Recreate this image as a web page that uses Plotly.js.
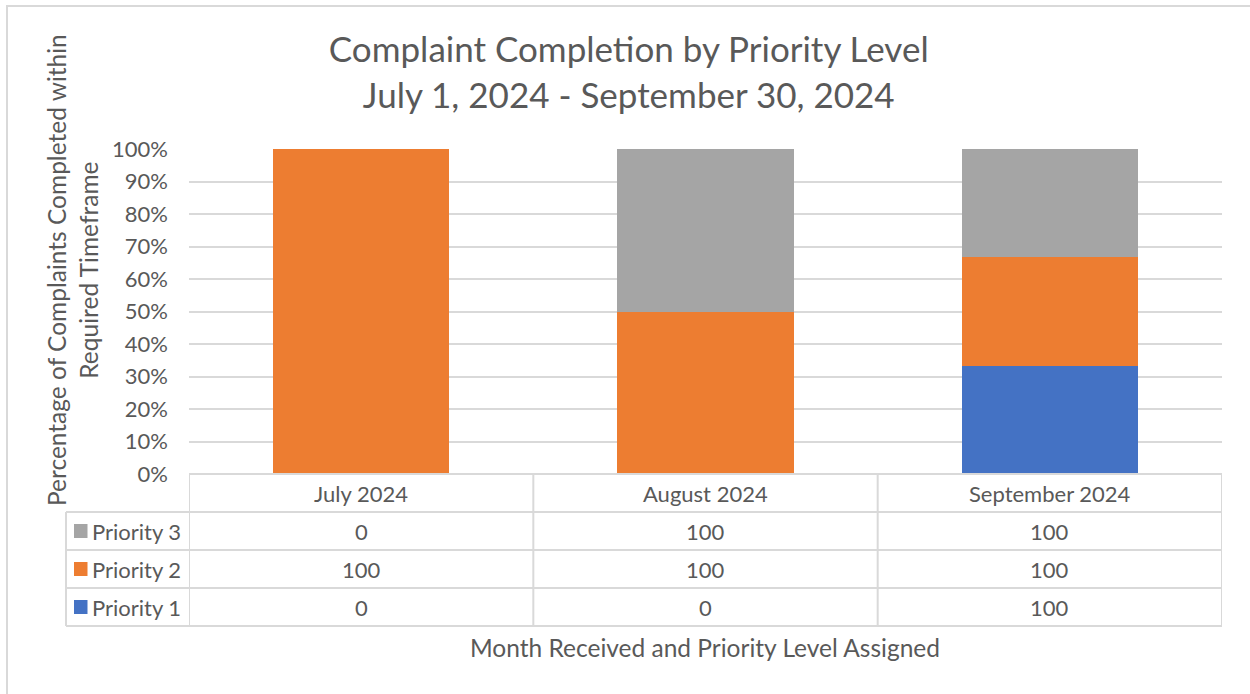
<!DOCTYPE html>
<html>
<head>
<meta charset="utf-8">
<script src="https://cdn.plot.ly/plotly-3.0.1.min.js"></script>
<style>
  html, body { margin: 0; padding: 0; background: #fff; }
  #wrap { position: relative; width: 1250px; height: 694px; overflow: hidden; }
  #chart { position: absolute; left: 0; top: 0; width: 1250px; height: 694px; }
  #frame { position: absolute; left: 6px; top: 5px; width: 1300px; height: 800px;
           border-left: 2px solid #d9d9d9; border-top: 2px solid #d9d9d9; pointer-events: none; }
</style>
</head>
<body>
<div id="wrap">
  <div id="chart"></div>
  <div id="frame"></div>
</div>
<script>
// ---- data ----
const months = ["July 2024", "August 2024", "September 2024"];
const seriesNames = ["Priority 1", "Priority 2", "Priority 3"];
const priority1 = [0, 0, 100];
const priority2 = [100, 100, 100];
const priority3 = [0, 100, 100];
const colors = ["#4472C4", "#ED7D31", "#A5A5A5"];
const yTicks = [0, 10, 20, 30, 40, 50, 60, 70, 80, 90, 100];

const FONT = "Lato, 'Open Sans', sans-serif";
const TXT = "#595959";
const GRID = "#d9d9d9";
const SZ = 22;      // table & tick text
const SZT = 24.5;   // axis titles

const values = [priority1, priority2, priority3];
const traces = values.map((v, i) => ({
  type: "bar",
  name: seriesNames[i],
  x: months,
  y: v,
  marker: { color: colors[i], line: { width: 0 } },
  hoverinfo: "x+y+name"
}));

// plot geometry (pixels) for the data table below the axis
const L = 189, R = 28, T = 149, B = 220;
const W = 1250, H = 694;
const pw = W - L - R, ph = H - T - B;
const py = p => (H - B - p) / ph;      // pixel y -> paper y
const px = p => (p - L) / pw;          // pixel x -> paper x

const headerY = 493;
const rowY = [531, 569, 607];          // rows: Priority 3, Priority 2, Priority 1
const rowOrder = [2, 1, 0];
const hLines = [474, 512, 550, 588, 626];

const shapes = [];
const annotations = [];
const lineStyle = { color: GRID, width: 2 };

// horizontal table lines
hLines.forEach((yy, k) => {
  shapes.push({ type: "line", xref: "paper", yref: "paper",
    x0: k === 0 ? 0 : px(66), x1: 1, y0: py(yy), y1: py(yy), line: lineStyle, layer: "above" });
});
// vertical table lines at category boundaries
[-0.5, 0.5, 1.5, 2.5].forEach(b => {
  shapes.push({ type: "line", xref: "x", yref: "paper",
    x0: b, x1: b, y0: py(474), y1: py(626), line: lineStyle });
});
// left border of legend column
shapes.push({ type: "line", xref: "paper", yref: "paper",
  x0: px(66), x1: px(66), y0: py(512), y1: py(626), line: lineStyle });

// header
months.forEach(m => {
  annotations.push({ text: m, xref: "x", yref: "paper", x: m, y: py(headerY),
    xanchor: "center", yanchor: "middle", showarrow: false,
    font: { family: FONT, size: SZ, color: TXT } });
});
// rows
rowOrder.forEach((si, r) => {
  const yy = rowY[r];
  // legend key
  shapes.push({ type: "rect", xref: "paper", yref: "paper",
    x0: px(74), x1: px(87.5), y0: py(yy - 7), y1: py(yy + 7),
    fillcolor: colors[si], line: { width: 0 } });
  annotations.push({ text: seriesNames[si], xref: "paper", yref: "paper",
    x: px(183), y: py(yy), xanchor: "right", yanchor: "middle", showarrow: false,
    font: { family: FONT, size: SZ, color: TXT } });
  months.forEach((m, j) => {
    annotations.push({ text: String(values[si][j]), xref: "x", yref: "paper",
      x: m, y: py(yy), xanchor: "center", yanchor: "middle", showarrow: false,
      font: { family: FONT, size: SZ, color: TXT } });
  });
});

// axis titles
annotations.push({ text: "Percentage of Complaints Completed within<br>Required Timeframe",
  xref: "paper", yref: "paper", x: px(72), y: py(270), textangle: -90,
  xanchor: "center", yanchor: "middle", showarrow: false,
  font: { family: FONT, size: SZT, color: TXT } });
annotations.push({ text: "Month Received and Priority Level Assigned",
  xref: "paper", yref: "paper", x: px(705), y: py(647),
  xanchor: "center", yanchor: "middle", showarrow: false,
  font: { family: FONT, size: SZT, color: TXT } });

const layout = {
  width: W, height: H,
  margin: { l: L, r: R, t: T, b: B },
  paper_bgcolor: "rgba(0,0,0,0)",
  plot_bgcolor: "#fff",
  barmode: "stack",
  barnorm: "percent",
  bargap: 0.488,
  showlegend: false,
  title: {
    text: "Complaint Completion by Priority Level<br>July 1, 2024 - September 30, 2024",
    x: 0.503, xanchor: "center", y: 1 - 62 / 694, yanchor: "middle",
    font: { family: FONT, size: 35, color: TXT }
  },
  xaxis: {
    type: "category",
    range: [-0.5, 2.5],
    showticklabels: false,
    showgrid: false,
    zeroline: false,
    showline: false,
    ticks: ""
  },
  yaxis: {
    range: [0, 100],
    tickvals: yTicks,
    ticktext: yTicks.map(v => v + "%"),
    showgrid: true,
    gridcolor: GRID,
    gridwidth: 2,
    zeroline: false,
    showline: false,
    ticks: "",
    ticklabelstandoff: 20,
    tickfont: { family: FONT, size: SZ, color: TXT }
  },
  shapes: shapes,
  annotations: annotations
};

Plotly.newPlot("chart", traces, layout, { displayModeBar: false, staticPlot: true });
</script>
</body>
</html>
